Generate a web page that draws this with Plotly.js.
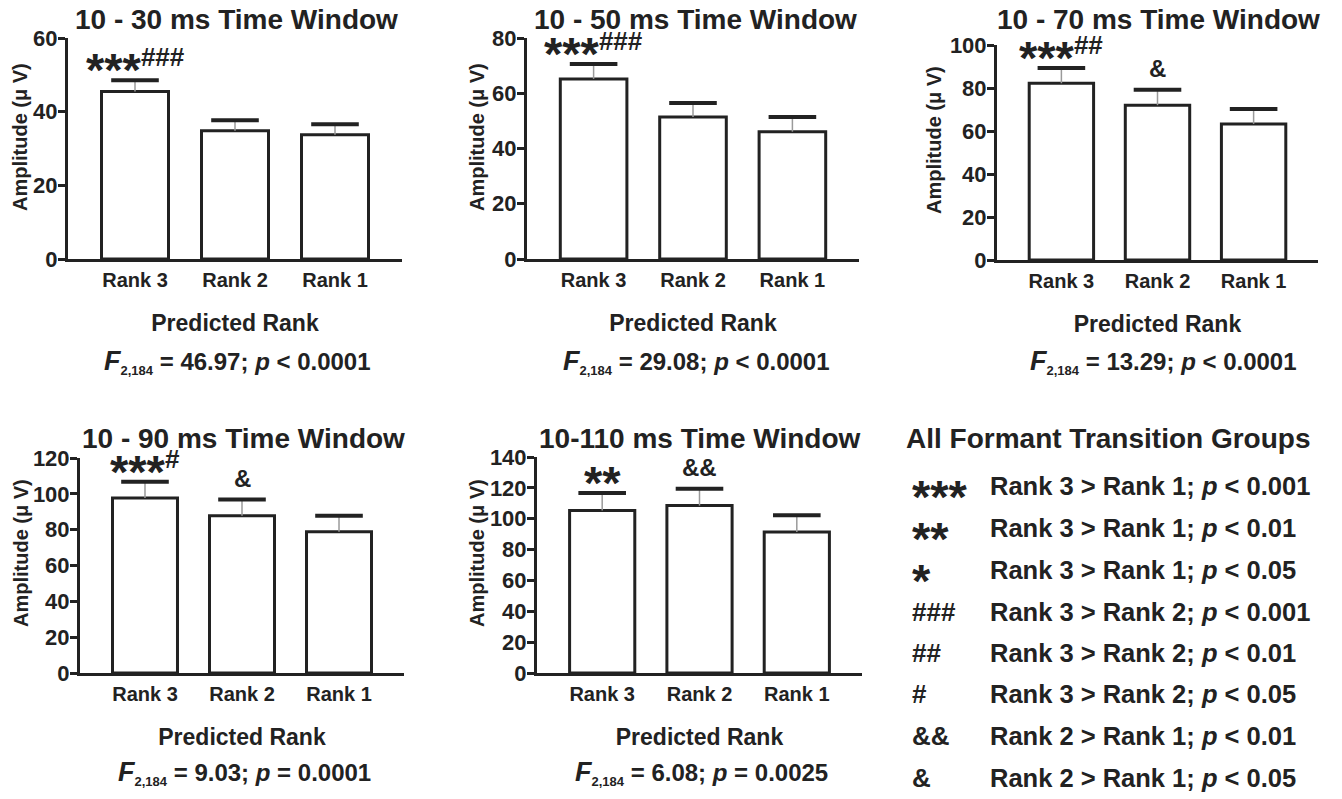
<!DOCTYPE html>
<html>
<head>
<meta charset="utf-8">
<script src="https://cdn.plot.ly/plotly-3.0.1.min.js"></script>
<style>
  html, body { margin: 0; padding: 0; background: #ffffff; }
  #chart { width: 1342px; height: 799px; }
</style>
</head>
<body>
<div id="chart"></div>
<script>
// ---------------- DATA ----------------
const categories = ["Rank 3", "Rank 2", "Rank 1"];

const panelTitles = ["10 - 30 ms Time Window", "10 - 50 ms Time Window", "10 - 70 ms Time Window",
                     "10 - 90 ms Time Window", "10-110 ms Time Window"];

const amp10to30  = [45.5, 34.8, 33.7];
const sem10to30  = [3.0, 2.9, 2.9];
const amp10to50  = [65.2, 51.4, 46.1];
const sem10to50  = [5.4, 5.1, 5.3];
const amp10to70  = [82.2, 72.0, 63.3];
const sem10to70  = [7.1, 7.2, 6.9];
const amp10to90  = [97.7, 87.7, 78.8];
const sem10to90  = [9.1, 9.1, 8.9];
const amp10to110 = [105.4, 108.5, 91.4];
const sem10to110 = [11.3, 11.0, 10.8];

const yMax = [60, 80, 100, 120, 140];
const yTickStep = 20;

// significance marks: [main mark, superscript mark] per bar
const sigMain10to30  = ["***", "", ""];
const sigSup10to30   = ["###", "", ""];
const sigMain10to50  = ["***", "", ""];
const sigSup10to50   = ["###", "", ""];
const sigMain10to70  = ["***", "&", ""];
const sigSup10to70   = ["##", "", ""];
const sigMain10to90  = ["***", "&", ""];
const sigSup10to90   = ["#", "", ""];
const sigMain10to110 = ["**", "&&", ""];
const sigSup10to110  = ["", "", ""];

const fValues = ["46.97", "29.08", "13.29", "9.03", "6.08"];
const pValues = ["< 0.0001", "< 0.0001", "< 0.0001", "= 0.0001", "= 0.0025"];
const dfLabel = "2,184";

const yAxisTitle = "Amplitude (\u03BC V)";
const xAxisTitle = "Predicted Rank";

const legendTitle = "All Formant Transition Groups";
const legendSymbols = ["***", "**", "*", "###", "##", "#", "&&", "&"];
const legendTexts = [
  ["Rank 3 > Rank 1", "< 0.001"],
  ["Rank 3 > Rank 1", "< 0.01"],
  ["Rank 3 > Rank 1", "< 0.05"],
  ["Rank 3 > Rank 2", "< 0.001"],
  ["Rank 3 > Rank 2", "< 0.01"],
  ["Rank 3 > Rank 2", "< 0.05"],
  ["Rank 2 > Rank 1", "< 0.01"],
  ["Rank 2 > Rank 1", "< 0.05"]
];

// ---------------- LAYOUT / STYLE ----------------
const W = 1342, H = 799;
const FONT = "Liberation Sans, Arial, Helvetica, sans-serif";
const INK = "#222222";
const px = v => v / W;
const py = v => 1 - v / H;
const esc = s => s.replace(/&/g, "&amp;").replace(/</g, "&lt;").replace(/>/g, "&gt;");

const amps = [amp10to30, amp10to50, amp10to70, amp10to90, amp10to110];
const sems = [sem10to30, sem10to50, sem10to70, sem10to90, sem10to110];
const sigMain = [sigMain10to30, sigMain10to50, sigMain10to70, sigMain10to90, sigMain10to110];
const sigSup = [sigSup10to30, sigSup10to50, sigSup10to70, sigSup10to90, sigSup10to110];

// plot boxes in pixels: [left, right, top, bottom]
const boxes = [
  [68, 402, 38, 259],
  [527, 859, 38, 259],
  [997, 1318, 45, 260],
  [80, 404, 458, 673],
  [537, 862, 457, 673]
];
const titlePos = [[236, 19], [695, 19], [1158, 20], [243, 438], [700, 438]];
const statPos = [[237, 362], [696, 362], [1163, 362], [244, 773], [702, 773]];
const yTitlePos = [[20, 137], [477, 137], [934, 140], [21, 553], [477, 553]];

const traces = [];
const annotations = [];
const layout = {
  width: W, height: H,
  margin: {l: 0, r: 0, t: 0, b: 0},
  paper_bgcolor: "#ffffff",
  plot_bgcolor: "#ffffff",
  showlegend: false,
  font: {family: FONT, color: INK, size: 20, weight: "bold"},
  annotations: annotations
};

for (let i = 0; i < 5; i++) {
  const n = i === 0 ? "" : String(i + 1);
  const xa = "x" + n, ya = "y" + n;
  const b = boxes[i];
  const tops = amps[i].map((v, k) => v + sems[i][k]);

  traces.push({
    type: "bar", x: categories, y: amps[i], xaxis: xa, yaxis: ya,
    width: 0.67,
    marker: {color: "#ffffff", line: {color: INK, width: 3}},
    error_y: {type: "data", symmetric: false, array: sems[i], arrayminus: amps[i].map(() => 0),
              color: "#9a9a9a", thickness: 1.5, width: 0},
    hoverinfo: "skip"
  });
  traces.push({
    type: "scatter", mode: "markers", x: categories, y: tops, xaxis: xa, yaxis: ya,
    marker: {symbol: "line-ew", size: 34, line: {color: INK, width: 4}},
    hoverinfo: "skip", cliponaxis: false
  });

  layout["xaxis" + n] = {
    domain: [px(b[0]), px(b[1])], anchor: ya,
    type: "category", range: [-0.67, 2.67],
    showline: true, linewidth: 3, linecolor: INK,
    ticks: "", showgrid: false, zeroline: false,
    tickfont: {family: FONT, size: 20, color: INK, weight: "bold"},
    ticklabelstandoff: 1,
    title: {text: xAxisTitle, standoff: 25, font: {family: FONT, size: 23, color: INK, weight: "bold"}},
    fixedrange: true
  };
  layout["yaxis" + n] = {
    domain: [py(b[3]), py(b[2])], anchor: xa,
    range: [0, yMax[i]], dtick: yTickStep, tick0: 0,
    showline: true, linewidth: 3, linecolor: INK,
    ticks: "outside", ticklen: 7, tickwidth: 3, tickcolor: INK,
    ticklabelstandoff: -4,
    showgrid: false, zeroline: false,
    tickfont: {family: FONT, size: 22, color: INK, weight: "bold"},
    fixedrange: true
  };

  // y-axis title (rotated)
  annotations.push({
    xref: "paper", yref: "paper", x: px(yTitlePos[i][0]), y: py(yTitlePos[i][1]),
    xanchor: "center", yanchor: "middle", showarrow: false, textangle: -90,
    text: esc(yAxisTitle),
    font: {family: FONT, size: 20, color: INK, weight: "bold"}
  });
  // panel title
  annotations.push({
    xref: "paper", yref: "paper", x: px(titlePos[i][0]), y: py(titlePos[i][1]),
    xanchor: "center", yanchor: "middle", showarrow: false,
    text: esc(panelTitles[i]),
    font: {family: FONT, size: 28, color: INK, weight: "bold"}
  });
  // statistics line
  annotations.push({
    xref: "paper", yref: "paper", x: px(statPos[i][0]), y: py(statPos[i][1]),
    xanchor: "center", yanchor: "middle", showarrow: false,
    text: '<span style="font-size:27px"><i>F</i></span><sub><span style="font-size:13px">' + dfLabel +
          "</span></sub> = " + fValues[i] + "; <i>p</i> " + esc(pValues[i]),
    font: {family: FONT, size: 24, color: INK, weight: "bold"}
  });
  // significance marks above bars
  for (let k = 0; k < categories.length; k++) {
    const m = sigMain[i][k], s = sigSup[i][k];
    if (!m && !s) continue;
    const isStar = m.indexOf("*") >= 0;
    let txt;
    if (isStar) {
      txt = '<span style="font-size:47px">' + esc(m) + '</span>' +
            (s ? '<span style="font-size:26px;baseline-shift:20px">' + esc(s) + '</span>' : "");
    } else {
      txt = esc(m);
    }
    annotations.push({
      xref: xa, yref: ya, x: categories[k], y: tops[k],
      xanchor: "center", yanchor: "bottom", showarrow: false,
      yshift: isStar ? -18 : 6,
      text: txt,
      font: {family: FONT, size: isStar ? 25 : 24, color: INK, weight: "bold"}
    });
  }
}

// legend block (bottom right)
annotations.push({
  xref: "paper", yref: "paper", x: px(904), y: py(438),
  xanchor: "left", yanchor: "middle", showarrow: false,
  text: esc(legendTitle),
  font: {family: FONT, size: 28, color: INK, weight: "bold"}
});
const legendRowY = [486, 528, 570, 612, 653, 694, 736, 778];
for (let r = 0; r < legendSymbols.length; r++) {
  const sym = legendSymbols[r];
  const isStar = sym.indexOf("*") >= 0;
  annotations.push({
    xref: "paper", yref: "paper", x: px(910), y: py(legendRowY[r] + (isStar ? 10 : 0)),
    xanchor: "left", yanchor: "middle", showarrow: false,
    text: esc(sym),
    font: {family: FONT, size: isStar ? 47 : 26, color: INK, weight: "bold"}
  });
  annotations.push({
    xref: "paper", yref: "paper", x: px(988), y: py(legendRowY[r]),
    xanchor: "left", yanchor: "middle", showarrow: false,
    text: esc(legendTexts[r][0]) + "; <i>p</i> " + esc(legendTexts[r][1]),
    font: {family: FONT, size: 25.5, color: INK, weight: "bold"}
  });
}

Plotly.newPlot("chart", traces, layout, {displayModeBar: false, staticPlot: true});
</script>
</body>
</html>
